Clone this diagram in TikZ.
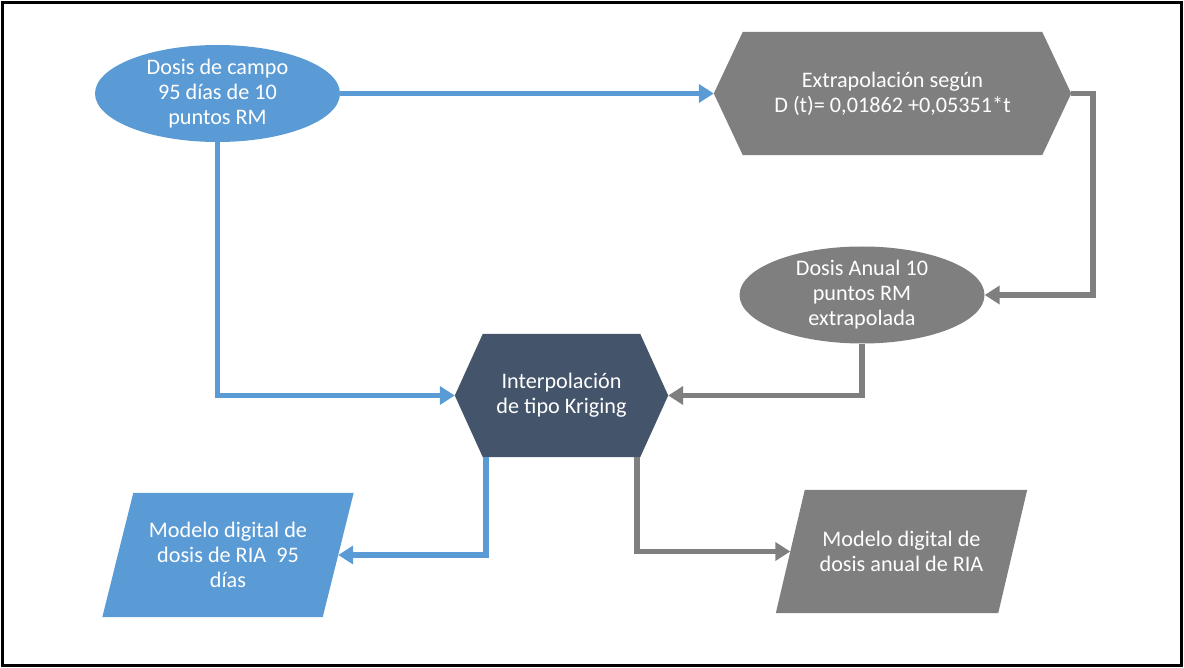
\documentclass[tikz,border=0pt]{standalone}
\usepackage{fontspec}
\setmainfont{Carlito}
\usetikzlibrary{shapes.geometric,arrows.meta,backgrounds}
\definecolor{bluec}{HTML}{5B9BD5}
\definecolor{greyc}{HTML}{7F7F7F}
\definecolor{darkc}{HTML}{44546A}
\tikzset{
  txt/.style={text=white,align=center,font=\fontsize{22.2}{25}\selectfont,inner sep=0pt},
  ellbody/.style={ellipse,minimum width=245pt,minimum height=97pt,inner sep=0pt,draw=none},
  box/.style={rectangle,draw=none,inner sep=0pt},
  conn/.style={line width=5.5pt,-{Triangle[length=15pt,width=18pt]}},
  blueconn/.style={conn,draw=bluec},
  greyconn/.style={conn,draw=greyc}
}
\begin{document}
\begin{tikzpicture}[x=1pt,y=-1pt]
\useasboundingbox (0,0) rectangle (1184,668);
\draw[line width=2.5pt] (2.5,2.5) rectangle (1181.5,665.5);

% Ellipse 1
\node[ellbody,fill=bluec] (campo) at (217.5,93.5) {};
\node[txt] (campoT) at (campo.center) {Dosis de campo\\95 días de 10\\puntos RM};

% Hexagon 1
\node[box,minimum width=299pt,minimum height=123pt] (extrap) at (892.5,93.5) {};
\begin{scope}[on background layer]
\fill[greyc] (extrap.north west) -- (extrap.north east) -- ([xshift=29pt]extrap.east)
  -- (extrap.south east) -- (extrap.south west) -- ([xshift=-29pt]extrap.west) -- cycle;
\end{scope}
\coordinate (extrapW) at ([xshift=-29pt]extrap.west);
\coordinate (extrapE) at ([xshift=29pt]extrap.east);
\node[txt] (extrapT) at (extrap.center) {Extrapolación según\\D (t)= 0,01862 +0,05351*t};

% Ellipse 2
\node[ellbody,fill=greyc] (anual) at (862,295) {};
\node[txt] (anualT) at (anual.center) {Dosis Anual 10\\puntos RM\\extrapolada};

% Hexagon 2
\node[box,minimum width=157pt,minimum height=123pt] (krig) at (561.5,395.5) {};
\begin{scope}[on background layer]
\fill[darkc] (krig.north west) -- (krig.north east) -- ([xshift=28pt]krig.east)
  -- (krig.south east) -- (krig.south west) -- ([xshift=-28pt]krig.west) -- cycle;
\end{scope}
\coordinate (krigW) at ([xshift=-28pt]krig.west);
\coordinate (krigE) at ([xshift=28pt]krig.east);
\coordinate (krigSW) at ([xshift=3pt]krig.south west);
\coordinate (krigSE) at ([xshift=-3pt]krig.south east);
\node[txt] (krigT) at (krig.center) {Interpolación\\de tipo Kriging};

% Parallelogram 1
\node[box,minimum width=220pt,minimum height=124pt] (mod1) at (228,555) {};
\begin{scope}[on background layer]
\fill[bluec] ([xshift=15.5pt]mod1.north west) -- ([xshift=15.5pt]mod1.north east)
  -- ([xshift=-15.5pt]mod1.south east) -- ([xshift=-15.5pt]mod1.south west) -- cycle;
\end{scope}
\node[txt] (mod1T) at (mod1.center) {Modelo digital de\\dosis de RIA\ \ 95\\días};

% Parallelogram 2
\node[box,minimum width=222pt,minimum height=123pt] (mod2) at (901.5,551.5) {};
\begin{scope}[on background layer]
\fill[greyc] ([xshift=14.5pt]mod2.north west) -- ([xshift=14.5pt]mod2.north east)
  -- ([xshift=-14.5pt]mod2.south east) -- ([xshift=-14.5pt]mod2.south west) -- cycle;
\end{scope}
\node[txt] (mod2T) at (mod2.center) {Modelo digital de\\dosis anual de RIA};

% Connectors
\draw[blueconn] (campo.east) -- (extrapW);
\draw[blueconn] (campo.south) |- (krigW);
\draw[greyconn] (extrapE) -- ++(22,0) |- (anual.east);
\draw[greyconn] (anual.south) |- (krigE);
\draw[blueconn] (krigSW) |- (mod1.east);
\draw[greyconn] (krigSE) |- (mod2.west);
\end{tikzpicture}
\end{document}
